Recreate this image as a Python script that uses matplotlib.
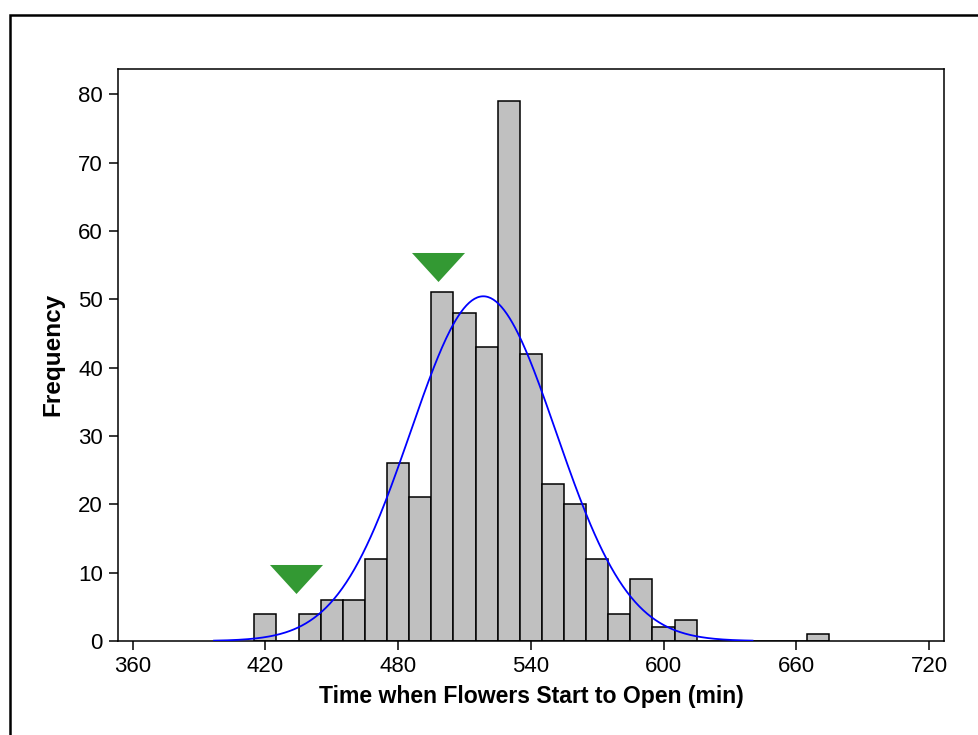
import numpy as np
import matplotlib
matplotlib.use("Agg")
import matplotlib.pyplot as plt
from matplotlib.patches import Rectangle
from matplotlib import font_manager

# ---- data ----
bin_centers = [420, 430, 440, 450, 460, 470, 480, 490, 500, 510, 520, 530, 540,
               550, 560, 570, 580, 590, 600, 610, 620, 630, 640, 650, 660, 670]
counts = [4, 0, 4, 6, 6, 12, 26, 21, 51, 48, 43, 79, 42,
          23, 20, 12, 4, 9, 2, 3, 0, 0, 0, 0, 0, 1]
bin_width = 10
fit_mean = 518.5
fit_sd = 32.9
marker_x = [434, 498]
marker_y = [9.1, 54.8]
x_ticks = [360, 420, 480, 540, 600, 660, 720]
y_ticks = [0, 10, 20, 30, 40, 50, 60, 70, 80]
x_label = "Time when Flowers Start to Open (min)"
y_label = "Frequency"

names = {f.name for f in font_manager.fontManager.ttflist}
tick_font = ["Liberation Sans Narrow"] if "Liberation Sans Narrow" in names else ["Liberation Sans"]
label_font = ["Liberation Sans"]

W, H = 979, 735
fig = plt.figure(figsize=(W / 100, H / 100), dpi=100)
fig.patch.set_facecolor("white")

# outer frame
fig.add_artist(Rectangle((9.5 / W, -0.1), 1.2, (H - 14.5) / H + 0.1,
                         transform=fig.transFigure, fill=False,
                         edgecolor="black", linewidth=1.8))

ax = fig.add_axes([118 / W, (H - 641) / H, (944 - 118) / W, (641 - 68.7) / H])

ax.bar(bin_centers, counts, width=bin_width, color="#C0C0C0",
       edgecolor="black", linewidth=1.1, zorder=2)

n_total = sum(counts)
xs = np.linspace(fit_mean - 3.7 * fit_sd, fit_mean + 3.7 * fit_sd, 400)
ys = n_total * bin_width / (fit_sd * np.sqrt(2 * np.pi)) * np.exp(-0.5 * ((xs - fit_mean) / fit_sd) ** 2)
ax.plot(xs, ys, color="#0000FF", linewidth=1.3, zorder=3)

tri = [(-26.5, 14.5), (26.5, 14.5), (0, -14.5)]
ax.plot(marker_x, marker_y, linestyle="none", marker=tri, markersize=38.2,
        color="#339933", markeredgewidth=0, zorder=4)

ax.set_xlim(353.35, 726.8)
ax.set_ylim(0, 83.75)
ax.set_xticks(x_ticks)
ax.set_yticks(y_ticks)
ax.tick_params(direction="out", length=6.5, width=1.1, pad=4.3, labelsize=16)
for lab in ax.get_xticklabels() + ax.get_yticklabels():
    lab.set_family(tick_font)
for sp in ax.spines.values():
    sp.set_linewidth(1.1)

ax.set_xlabel(x_label, fontsize=16.6, fontweight="bold", family=label_font, labelpad=6)
ax.set_ylabel(y_label, fontsize=17.5, fontweight="bold", family=label_font, labelpad=10)

fig.savefig("out.png", dpi=100, facecolor="white")
